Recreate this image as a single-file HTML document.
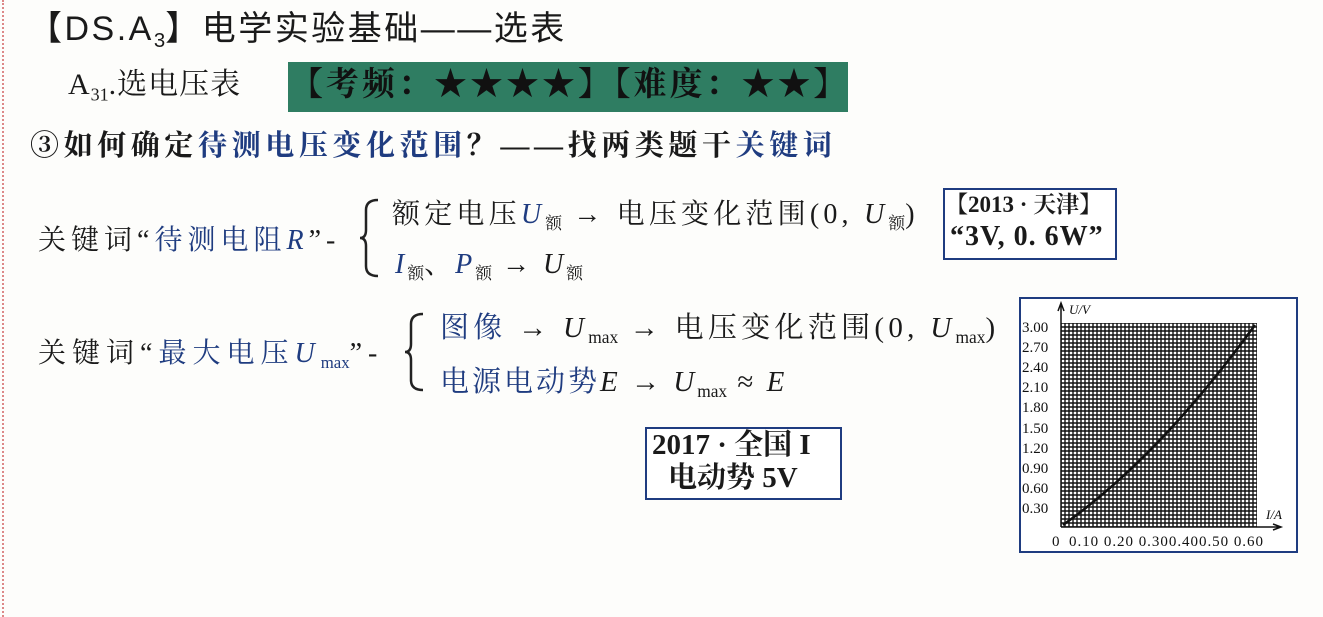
<!DOCTYPE html>
<html><head><meta charset="utf-8"><style>
body{margin:0;width:1323px;height:617px;background:#fdfdfb;position:relative;overflow:hidden;font-family:"Liberation Serif","Noto Serif CJK SC",serif;color:#1a1a1a}
.a{position:absolute;white-space:nowrap;line-height:1}
.b{color:#1f3c80}
i{font-style:italic}
sub{font-size:60%;vertical-align:-0.35em;letter-spacing:0}
.box{position:absolute;border:2px solid #1f3c80;background:#fff}
</style></head><body>
<div style="position:absolute;left:2px;top:0;height:617px;border-left:2px dotted #d88"></div>
<div class="a" style="left:28px;top:12px;font-size:34px;letter-spacing:2.5px;font-family:'Liberation Sans','Noto Sans CJK SC',sans-serif">【DS.A<sub>3</sub>】电学实验基础——选表</div>
<div class="a" style="left:68px;top:70px;font-size:30px;letter-spacing:1px">A<sub>31</sub>.选电压表</div>
<div style="position:absolute;left:288px;top:62px;width:560px;height:50px;background:#2f7d62"></div>
<div class="a" style="left:290px;top:69px;font-size:33px;color:#111;letter-spacing:3px;font-weight:bold">【考频：★★★★】【难度：★★】</div>
<div class="a" style="left:30px;top:132px;font-size:29px;letter-spacing:4.6px;font-weight:bold">③如何确定<span class="b">待测电压变化范围</span>？——找两类题干<span class="b">关键词</span></div>

<div class="a" style="left:38px;top:227px;font-size:28px;letter-spacing:5px">关键词“<span class="b">待测电阻<i>R</i></span>”-</div>
<svg style="position:absolute;left:358px;top:196px" width="40" height="84"><path d="M20 4Q8 4 8 14V34Q8 42 2 42Q8 42 8 50V70Q8 80 20 80" stroke="#222" stroke-width="2.5" fill="none"/></svg>
<div class="a" style="left:392px;top:201px;font-size:28px;letter-spacing:4.2px">额定电压<i class="b">U</i><sub>额</sub> → 电压变化范围(0, <i>U</i><sub>额</sub>)</div>
<div class="a" style="left:395px;top:251px;font-size:28px;letter-spacing:3px"><i class="b">I</i><sub>额</sub>、<i class="b">P</i><sub>额</sub> → <i>U</i><sub>额</sub></div>
<div class="box" style="left:943px;top:188px;width:170px;height:68px"></div>
<div class="a" style="left:945px;top:193px;font-size:23px;font-weight:bold">【2013 · 天津】</div>
<div class="a" style="left:950px;top:223px;font-size:28px;font-weight:bold;letter-spacing:1px">“3V, 0. 6W”</div>

<div class="a" style="left:38px;top:340px;font-size:28px;letter-spacing:6px">关键词“<span class="b">最大电压<i>U</i><sub>max</sub></span>”-</div>
<svg style="position:absolute;left:403px;top:310px" width="40" height="84"><path d="M20 4Q8 4 8 14V34Q8 42 2 42Q8 42 8 50V70Q8 80 20 80" stroke="#222" stroke-width="2.5" fill="none"/></svg>
<div class="a" style="left:440px;top:314px;font-size:29px;letter-spacing:4.3px"><span class="b">图像</span> → <i>U</i><sub>max</sub> → 电压变化范围(0, <i>U</i><sub>max</sub>)</div>
<div class="a" style="left:440px;top:368px;font-size:29px;letter-spacing:3px"><span class="b">电源电动势</span><i>E</i> → <i>U</i><sub>max</sub> ≈ <i>E</i></div>
<div class="box" style="left:645px;top:427px;width:193px;height:69px"></div>
<div class="a" style="left:652px;top:431px;font-size:29px;font-weight:bold">2017 · 全国 I</div>
<div class="a" style="left:668px;top:464px;font-size:29px;font-weight:bold">电动势 5V</div>

<svg style="position:absolute;left:1019px;top:297px" width="279" height="256">
<defs><pattern id="g" width="4" height="4" patternUnits="userSpaceOnUse"><path d="M0 2H4M2 0V4" stroke="#111" stroke-width="1.4"/></pattern></defs>
<rect x="1" y="1" width="277" height="254" fill="#fff" stroke="#1f3c80" stroke-width="2"/>
<rect x="42" y="26" width="196" height="204" fill="url(#g)"/>
<path d="M42 230V8M39 14L42 6L45 14M42 230H262M254 227L262 230L254 233" stroke="#111" stroke-width="1.5" fill="none"/>
<path d="M44 228Q140 160 236 28" stroke="#111" stroke-width="2.5" fill="none"/>
<g font-size="15" fill="#111">
<text x="50" y="17" font-style="italic" font-size="13">U/V</text>
<text x="247" y="222" font-style="italic" font-size="13">I/A</text>
<text x="3" y="35">3.00</text><text x="3" y="55">2.70</text><text x="3" y="75">2.40</text><text x="3" y="95">2.10</text><text x="3" y="115">1.80</text><text x="3" y="136">1.50</text><text x="3" y="156">1.20</text><text x="3" y="176">0.90</text><text x="3" y="196">0.60</text><text x="3" y="216">0.30</text>
<text x="33" y="249">0</text><text x="50" y="249" textLength="194">0.10 0.20 0.300.400.50 0.60</text>
</g></svg>
</body></html>
